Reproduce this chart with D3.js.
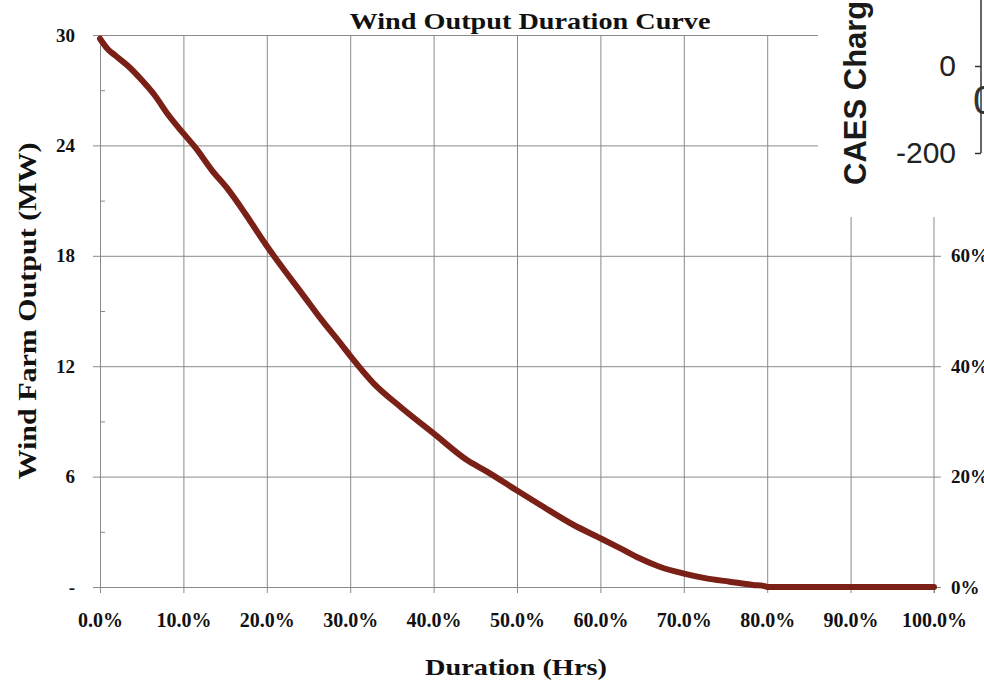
<!DOCTYPE html>
<html>
<head>
<meta charset="utf-8">
<script src="https://cdn.jsdelivr.net/npm/d3@7"></script>
<style>
  html, body { margin: 0; padding: 0; background: #fff; }
  svg { display: block; }
</style>
</head>
<body>
<svg id="chart" width="984" height="683"></svg>
<script>
// ---- data ----
const durationPct = [0, 1, 1.8, 3.4, 5, 6.6, 8.2, 10, 11.4, 13.4, 15.4, 17.4, 19.9, 21.8, 24.2, 26.6, 29, 30.2, 32.8, 36, 40, 44, 46.4, 49.9, 52.8, 56.8, 60, 62.4, 64.7, 67.1, 69.9, 72.7, 75.5, 78.3, 79.7, 80, 90, 100];
const outputMW = [29.8, 29.2, 28.9, 28.3, 27.55, 26.7, 25.65, 24.65, 23.9, 22.66, 21.58, 20.3, 18.6, 17.4, 15.96, 14.5, 13.15, 12.45, 11.07, 9.8, 8.35, 6.9, 6.27, 5.27, 4.46, 3.37, 2.65, 2.1, 1.56, 1.1, 0.74, 0.47, 0.29, 0.11, 0.05, 0, 0, 0];
const xTicks = [0, 10, 20, 30, 40, 50, 60, 70, 80, 90, 100];
const yTicks = [0, 6, 12, 18, 24, 30];
const yMinorTicks = [3, 9, 15, 21, 27];
const rightTicks = [0, 0.2, 0.4, 0.6];
const titleText = "Wind Output Duration Curve";
const xTitle = "Duration (Hrs)";
const yTitle = "Wind Farm Output (MW)";
// fragments of the overlapping neighbouring chart
const caesTitle = "CAES Charge";
const caesTicks = [0, -200];

const svg = d3.select("#chart");
const L = 100, R = 934, T = 35, B = 587;
const x = d3.scaleLinear().domain([0, 100]).range([L, R]);
const y = d3.scaleLinear().domain([0, 30]).range([B, T]);
const yR = d3.scaleLinear().domain([0, 1]).range([B, T]);
const grid = "#8a8a8a";
const serif = "'Liberation Serif', 'Times New Roman', serif";

// horizontal gridlines
svg.append("g").attr("transform", `translate(${L},0)`)
  .call(d3.axisLeft(y).tickValues(yTicks.filter(d => d > 0)).tickSize(-(R - L)).tickFormat(""))
  .call(g => g.select(".domain").remove())
  .selectAll("line").attr("stroke", grid);

// vertical gridlines
svg.append("g").attr("transform", `translate(0,${B})`)
  .call(d3.axisBottom(x).tickValues(xTicks.filter(d => d > 0 && d < 100)).tickSize(-(B - T)).tickFormat(""))
  .call(g => g.select(".domain").remove())
  .selectAll("line").attr("stroke", grid);

// left minor ticks (inside)
svg.append("g").attr("transform", `translate(${L},0)`)
  .call(d3.axisRight(y).tickValues(yMinorTicks).tickSize(5).tickFormat(""))
  .call(g => g.select(".domain").remove())
  .selectAll("line").attr("stroke", grid);

// left axis
const yFmt = d => d === 0 ? "-" : d;
svg.append("g").attr("transform", `translate(${L},0)`)
  .call(d3.axisLeft(y).tickValues(yTicks).tickSize(7).tickSizeOuter(0).tickPadding(18).tickFormat(yFmt))
  .call(g => g.selectAll("line,path").attr("stroke", grid))
  .call(g => g.selectAll("text").attr("font-family", serif).attr("font-weight", "bold")
    .attr("font-size", 19).attr("fill", "#111"));

// bottom axis
svg.append("g").attr("transform", `translate(0,${B})`)
  .call(d3.axisBottom(x).tickValues(xTicks).tickSize(6).tickSizeOuter(0).tickPadding(20)
    .tickFormat(d => d3.format(".1f")(d) + "%"))
  .call(g => g.selectAll("line,path").attr("stroke", grid))
  .call(g => g.selectAll("text").attr("font-family", serif).attr("font-weight", "bold")
    .attr("font-size", 20).attr("fill", "#111"));

// right axis
svg.append("g").attr("transform", `translate(${R},0)`)
  .call(d3.axisRight(yR).tickValues(rightTicks).tickSize(7).tickSizeOuter(0).tickPadding(10)
    .tickFormat(d => Math.round(d * 100) + "%"))
  .call(g => g.select(".domain").attr("d", `M0,${B + 6}V${T}`))
  .call(g => g.selectAll("line,path").attr("stroke", grid))
  .call(g => g.selectAll("text").attr("font-family", serif).attr("font-weight", "bold")
    .attr("font-size", 19).attr("fill", "#111"));

// curve
const pts = durationPct.map((d, i) => [d, outputMW[i]]);
svg.append("path")
  .datum(pts)
  .attr("fill", "none")
  .attr("stroke", "#7a2016")
  .attr("stroke-width", 6)
  .attr("stroke-linejoin", "round")
  .attr("stroke-linecap", "round")
  .attr("d", d3.line().x(d => x(d[0])).y(d => y(d[1])).curve(d3.curveMonotoneX));

// titles
svg.append("text").attr("x", 530).attr("y", 29).attr("text-anchor", "middle")
  .attr("font-family", serif).attr("font-weight", "bold").attr("font-size", 24).attr("fill", "#111")
  .attr("textLength", 361).attr("lengthAdjust", "spacingAndGlyphs").text(titleText);
svg.append("text").attr("x", 516).attr("y", 675).attr("text-anchor", "middle")
  .attr("font-family", serif).attr("font-weight", "bold").attr("font-size", 24).attr("fill", "#111")
  .attr("textLength", 182).attr("lengthAdjust", "spacingAndGlyphs").text(xTitle);
svg.append("text").attr("transform", "translate(36,311) rotate(-90)").attr("text-anchor", "middle")
  .attr("font-family", serif).attr("font-weight", "bold").attr("font-size", 25).attr("fill", "#111")
  .attr("textLength", 337).attr("lengthAdjust", "spacingAndGlyphs").text(yTitle);

// overlapping fragment of neighbouring chart (top-right)
const ov = svg.append("g");
ov.append("rect").attr("x", 818).attr("y", 0).attr("width", 166).attr("height", 217).attr("fill", "#fff");
const sans = "'Liberation Sans', Arial, sans-serif";
ov.append("text").attr("transform", "translate(866,185) rotate(-90)")
  .attr("font-family", sans).attr("font-weight", "bold").attr("font-size", 31).attr("fill", "#1a1a1a")
  .text(caesTitle);
const cy = d3.scaleLinear().domain([0, -200]).range([66, 153]);
ov.append("g").attr("transform", "translate(981,0)")
  .call(d3.axisLeft(cy).tickValues(caesTicks).tickSize(6).tickSizeOuter(0).tickPadding(19)
    .tickFormat(d => String(d)))
  .call(g => g.select(".domain").attr("d", `M0,0V${cy(-200)}`))
  .call(g => g.selectAll("line,path").attr("stroke", "#333").attr("stroke-width", 1.5))
  .call(g => g.selectAll("text").attr("font-family", sans).attr("font-size", 30).attr("fill", "#222"));
ov.append("text").attr("x", 973).attr("y", 114)
  .attr("font-family", sans).attr("font-size", 40).attr("fill", "#333").text("0");
</script>
</body>
</html>
